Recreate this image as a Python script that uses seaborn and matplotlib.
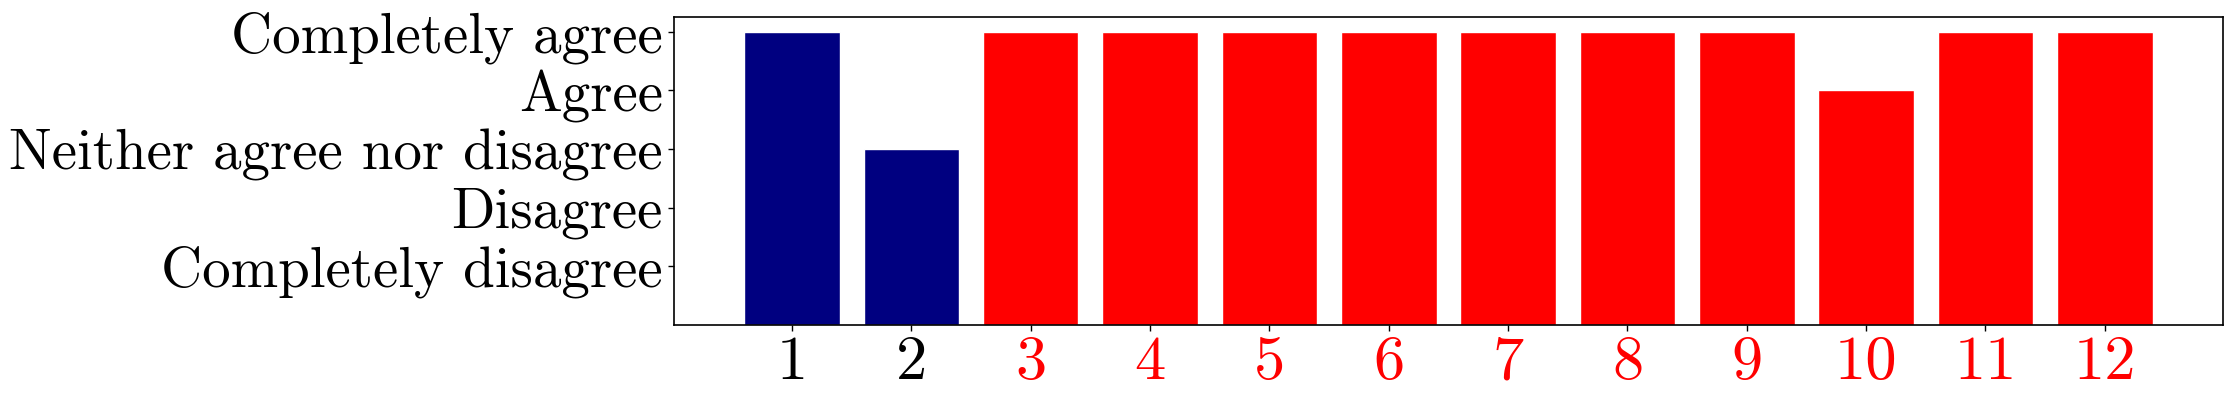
import matplotlib
matplotlib.use("Agg")
import matplotlib.pyplot as plt
import seaborn as sns
import pandas as pd

# Dados
questions = ["1", "2", "3", "4", "5", "6", "7", "8", "9", "10", "11", "12"]
answers = [5, 3, 5, 5, 5, 5, 5, 5, 5, 4, 5, 5]
groups = ["A", "A", "B", "B", "B", "B", "B", "B", "B", "B", "B", "B"]
scale_labels = ["Completely disagree", "Disagree", "Neither agree nor disagree",
                "Agree", "Completely agree"]
group_colors = {"A": "navy", "B": "red"}
label_colors = {"A": "black", "B": "red"}

sns.set_theme(style="ticks")
plt.rcParams["font.family"] = ["cmr10", "DejaVu Serif"]
plt.rcParams["axes.formatter.use_mathtext"] = True
plt.rcParams["axes.edgecolor"] = "black"
plt.rcParams["xtick.color"] = "black"
plt.rcParams["ytick.color"] = "black"

df = pd.DataFrame({"Questao": questions, "Resposta": answers, "Grupo": groups})

fig = plt.figure(figsize=(22.33, 4), dpi=100)
ax = fig.add_axes([0.3018, 0.1875, 0.9955 - 0.3018, 0.9575 - 0.1875])
sns.barplot(data=df, x="Questao", y="Resposta", hue="Grupo", palette=group_colors,
            order=questions, dodge=False, width=0.8, saturation=1, legend=False, ax=ax)

ax.set_xlim(-0.99, 11.99)
ax.set_ylim(0, 5.25)
ax.set_yticks(range(1, 6))
ax.set_yticklabels(scale_labels, fontsize=41)
ax.set_xticks(range(len(questions)))
ax.set_xticklabels(questions, fontsize=45)
for lbl, g in zip(ax.get_xticklabels(), groups):
    lbl.set_color(label_colors[g])
ax.set_xlabel("")
ax.set_ylabel("")
ax.tick_params(axis="both", length=4, width=1, pad=4)
for s in ax.spines.values():
    s.set_visible(True)
    s.set_linewidth(1.2)

plt.savefig("out.png", dpi=100)
